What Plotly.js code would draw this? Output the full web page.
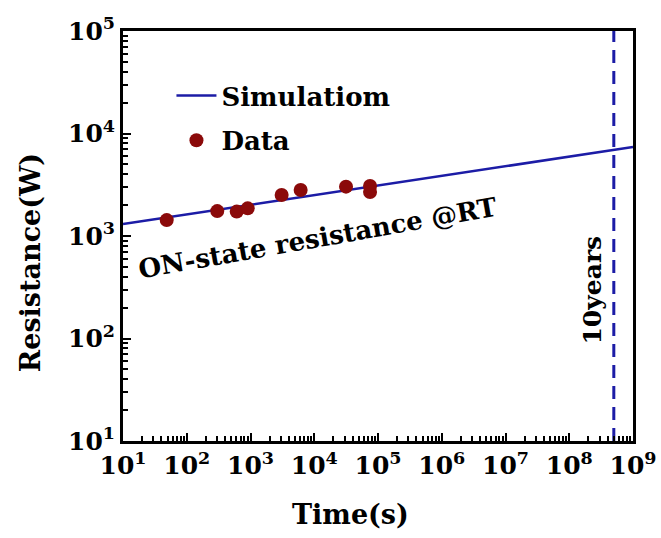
<!DOCTYPE html>
<html>
<head>
<meta charset="utf-8">
<script src="https://cdn.plot.ly/plotly-3.0.1.min.js"></script>
<style>html,body{margin:0;padding:0;background:#fff;}#chart{width:661px;height:538px;}</style>
</head>
<body>
<div id="chart"></div>
<script>
// Data
var dataTime = [48.5, 301, 608, 904, 3080, 6120, 31500, 75000, 75000];
var dataResistance = [1430, 1750, 1730, 1860, 2510, 2810, 3030, 3070, 2690];
var simTime = [10, 1e9];
var simResistance = [1310, 7380];
var tenYearsTime = [5e8, 5e8];
var tenYearsRange = [10, 1e5];
var xTickVals = [1e1, 1e2, 1e3, 1e4, 1e5, 1e6, 1e7, 1e8, 1e9];
var xTickText = ["10<sup>1</sup>", "10<sup>2</sup>", "10<sup>3</sup>", "10<sup>4</sup>", "10<sup>5</sup>", "10<sup>6</sup>", "10<sup>7</sup>", "10<sup>8</sup>", "10<sup>9</sup>"];
var yTickVals = [1e1, 1e2, 1e3, 1e4, 1e5];
var yTickText = ["10<sup>1</sup>", "10<sup>2</sup>", "10<sup>3</sup>", "10<sup>4</sup>", "10<sup>5</sup>"];
var xTitle = "Time(s)";
var yTitle = "Resistance(W)";

function minorVals(decades) {
  var out = [];
  decades.forEach(function (d) { for (var m = 2; m <= 9; m++) out.push(m * d); });
  return out;
}

var F = "DejaVu Serif";
var blue = "#1c1ca6";
var red = "#8b0a0a";

var traces = [
  {x: simTime, y: simResistance, mode: "lines", name: "Simulatiom",
   line: {color: blue, width: 2.5}, legendgroup: "a"},
  {x: dataTime, y: dataResistance, mode: "markers", name: "Data",
   marker: {color: red, size: 14}, legendgroup: "b"},
  {x: tenYearsTime, y: tenYearsRange, mode: "lines", showlegend: false,
   line: {color: blue, width: 3, dash: "13px,8px"}}
];

function axis(range, vals, text) {
  return {
    type: "log", showgrid: false, zeroline: false,
    showline: true, linecolor: "#000", linewidth: 3, mirror: true,
    ticks: "inside", ticklen: 8, tickwidth: 2, tickcolor: "#000",
    range: range, tickmode: "array", tickvals: vals, ticktext: text,
    tickfont: {family: F, size: 25, color: "#000", weight: "bold"},
    minor: {ticks: "inside", ticklen: 5, tickwidth: 2, tickcolor: "#000", tickmode: "array",
            tickvals: minorVals(vals.slice(0, -1)), showgrid: false}
  };
}

var titleFont = {family: F, size: 27, color: "#000", weight: "bold"};

var layout = {
  width: 661, height: 538,
  margin: {l: 123, r: 28, t: 31, b: 97},
  paper_bgcolor: "#fff", plot_bgcolor: "#fff",
  font: {family: F},
  showlegend: true,
  legend: {x: 0.095, y: 0.9, xanchor: "left", yanchor: "top", itemwidth: 40,
    bgcolor: "rgba(0,0,0,0)", traceorder: "grouped", tracegroupgap: 8,
    font: {family: F, size: 26, color: "#000", weight: "bold"}},
  xaxis: axis([1, 9], xTickVals, xTickText),
  yaxis: axis([1, 5], yTickVals, yTickText),
  annotations: [
    {x: 0.447, y: -0.18, xref: "paper", yref: "paper", text: xTitle,
     showarrow: false, xanchor: "center", yanchor: "middle", font: titleFont},
    {x: -0.182, y: 0.434, xref: "paper", yref: "paper", text: yTitle,
     showarrow: false, textangle: -90, xanchor: "center", yanchor: "middle", font: titleFont},
    {x: 4.06, y: 2.98, xref: "x", yref: "y", text: "ON-state resistance @RT",
     showarrow: false, textangle: -10,
     font: {family: F, size: 26, color: "#000", weight: "bold"}},
    {x: 8.36, y: 2.47, xref: "x", yref: "y", text: "10years",
     showarrow: false, textangle: -90,
     font: {family: F, size: 25, color: "#000", weight: "bold"}}
  ]
};

Plotly.newPlot("chart", traces, layout, {displayModeBar: false, staticPlot: true});
</script>
</body>
</html>
